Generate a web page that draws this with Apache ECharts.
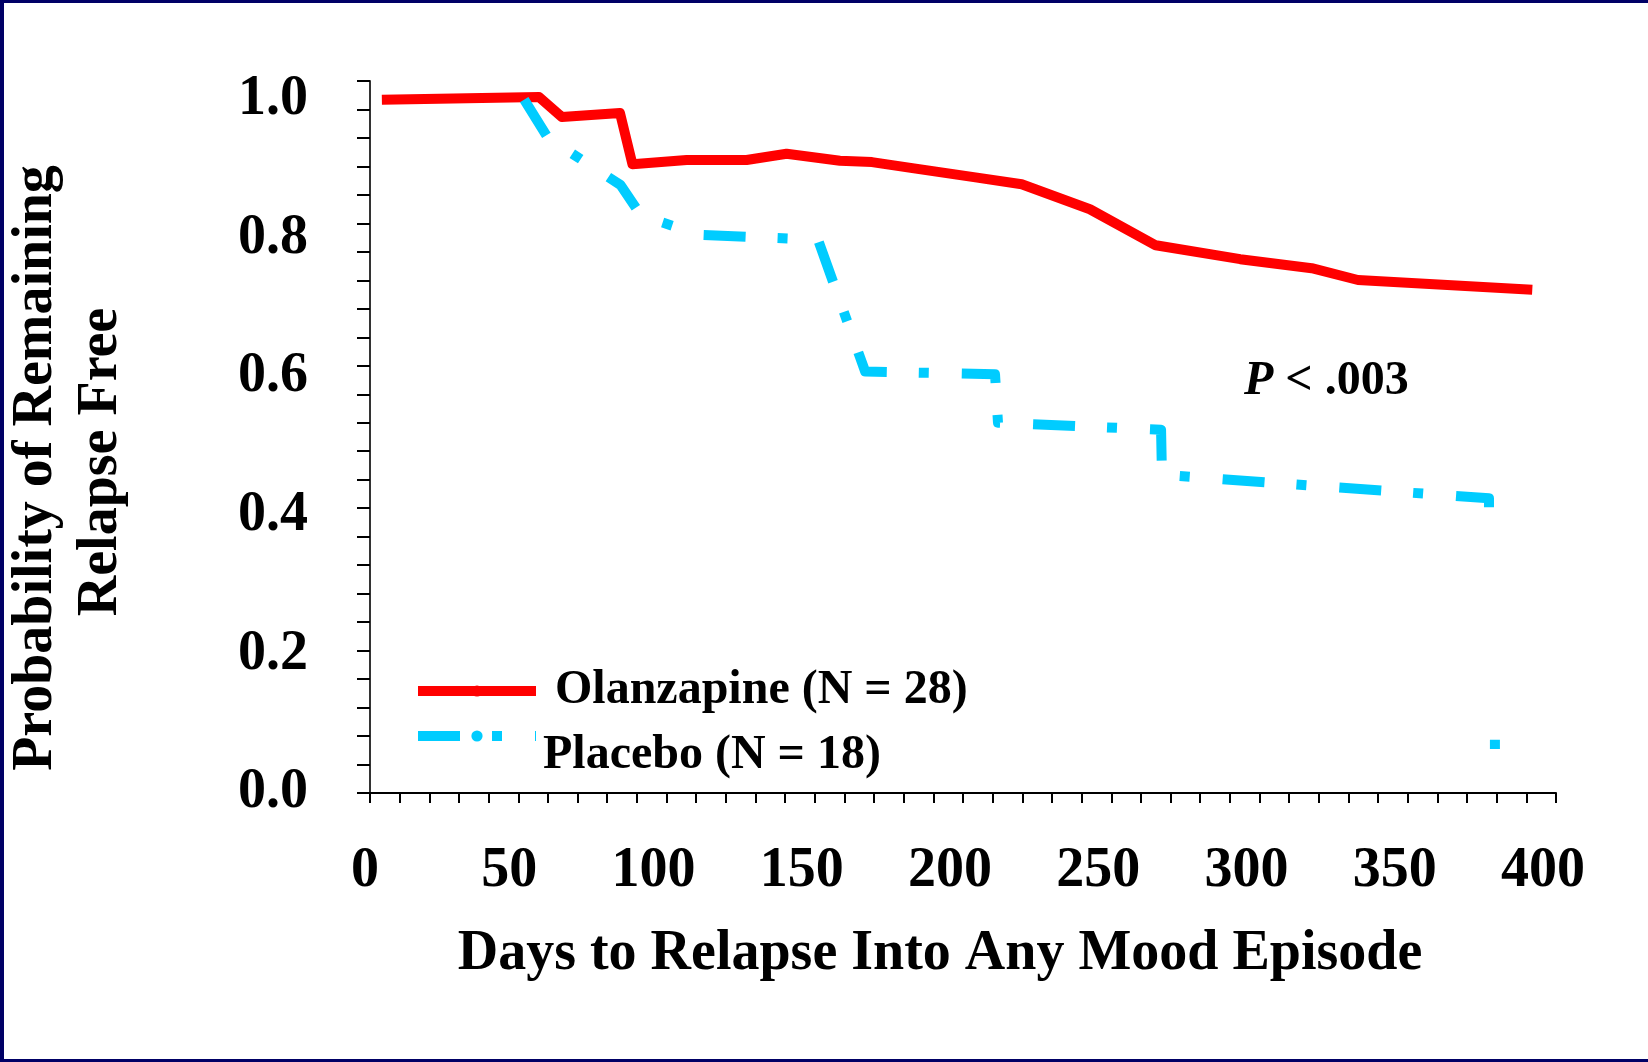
<!DOCTYPE html>
<html>
<head>
<meta charset="utf-8">
<title>Days to Relapse Into Any Mood Episode</title>
<script src="https://cdn.jsdelivr.net/npm/echarts@6/dist/echarts.min.js"></script>
<style>
  html, body { margin: 0; padding: 0; background: #fff; }
  #chart { width: 1648px; height: 1062px; }
</style>
</head>
<body>
<div id="chart"></div>
<script>
const FONT = '"Liberation Serif", "Times New Roman", serif'

// axis labels
const xTicks = [0, 50, 100, 150, 200, 250, 300, 350, 400]
const yTicks = [0, 0.2, 0.4, 0.6, 0.8, 1.0]

// Kaplan-Meier curves
const olanzapineDays = [4, 57, 64.7, 84.3, 88.5, 106.8, 127, 140.5, 158.5, 169.3, 183.5, 204.2, 219.8, 242.8, 265, 293.5, 317.6, 333.2, 392]
const olanzapineProb = [1.0, 1.004, 0.975, 0.981, 0.907, 0.913, 0.913, 0.922, 0.912, 0.91, 0.901, 0.888, 0.878, 0.842, 0.79, 0.77, 0.757, 0.74, 0.726]

const placeboDays = [52, 60, 84.5, 91.4, 111.3, 151.1, 167, 210.8, 211.8, 266.8, 267.1, 377.4, 377.4, 378, 379.4, 379.4]
const placeboProb = [1.0, 0.945, 0.877, 0.833, 0.805, 0.798, 0.608, 0.604, 0.534, 0.524, 0.459, 0.425, 0.405, null, 0.0767, 0.0636]

const olanzapineName = 'Olanzapine (N = 28)'
const placeboName = 'Placebo (N = 18)'

const zip = (xs, ys) => xs.map((x, i) => [x, ys[i]])

const chart = echarts.init(document.getElementById('chart'))

const boldText = {
  fontFamily: FONT,
  fontSize: 56,
  fontWeight: 'bold',
  color: '#000'
}

// tick labels sit a bit left of their ticks, more so the longer they are
const tickRich = {
  d1: { ...boldText, padding: [0, 10, 0, 0] },
  d2: { ...boldText, padding: [0, 18, 0, 0] },
  d3: { ...boldText, padding: [0, 26, 0, 0] }
}

const option = {
  animation: false,
  backgroundColor: '#fff',
  grid: {
    left: 370,
    right: 92,
    top: 81,
    bottom: 269,
    outerBoundsMode: 'none'
  },
  legend: [
    {
      data: [olanzapineName],
      left: 413,
      top: 667,
      padding: 0,
      itemWidth: 118,
      itemHeight: 14,
      selectedMode: false,
      lineStyle: { width: 10 },
      textStyle: { ...boldText, fontSize: 48, padding: [0, 0, 0, 14] }
    },
    {
      // label hangs a little below its line sample
      data: [placeboName],
      left: 413,
      top: 692,
      padding: 0,
      itemWidth: 118,
      itemHeight: 14,
      selectedMode: false,
      lineStyle: { width: 10 },
      formatter: name => '\n' + name,
      textStyle: { ...boldText, fontSize: 48, lineHeight: 40, padding: [0, 0, 0, 2] }
    }
  ],
  xAxis: {
    type: 'value',
    min: 0,
    max: 400,
    interval: 10,
    splitLine: { show: false },
    axisLine: { lineStyle: { color: '#000', width: 2 } },
    axisTick: { length: 10, lineStyle: { color: '#000', width: 2 } },
    axisLabel: {
      margin: 51,
      ...boldText,
      rich: tickRich,
      formatter: v => (xTicks.includes(v) ? '{d' + String(v).length + '|' + v + '}' : '')
    }
  },
  yAxis: [
    {
      type: 'value',
      min: 0,
      max: 1.027,
      interval: 0.2,
      splitLine: { show: false },
      axisLine: { show: true, lineStyle: { color: '#333', width: 2 } },
      axisTick: { show: false },
      axisLabel: {
        margin: 62,
        showMaxLabel: false,
        ...boldText,
        formatter: v => (yTicks.some(t => Math.abs(t - v) < 1e-6) ? v.toFixed(1) : '')
      }
    },
    {
      // minor ticks only
      type: 'value',
      position: 'left',
      min: 0,
      max: 25,
      interval: 1,
      splitLine: { show: false },
      axisLine: { show: false },
      axisTick: { show: true, length: 13, lineStyle: { color: '#000', width: 2 } },
      axisLabel: { show: false }
    }
  ],
  graphic: [
    { type: 'rect', shape: { x: 0, y: 0, width: 4, height: 1062 }, style: { fill: '#000066' } },
    { type: 'rect', shape: { x: 0, y: 0, width: 1648, height: 3 }, style: { fill: '#000066' } },
    { type: 'rect', shape: { x: 0, y: 1059, width: 1648, height: 3 }, style: { fill: '#000066' } },
    {
      type: 'text',
      x: 940,
      y: 955,
      style: {
        text: 'Days to Relapse Into Any Mood Episode',
        fontFamily: FONT, fontSize: 56, fontWeight: 'bold', fill: '#000',
        align: 'center', verticalAlign: 'middle'
      }
    },
    {
      type: 'text',
      x: 37,
      y: 468,
      rotation: Math.PI / 2,
      style: {
        text: 'Probability of Remaining',
        fontFamily: FONT, fontSize: 56, fontWeight: 'bold', fill: '#000',
        align: 'center', verticalAlign: 'middle'
      }
    },
    {
      type: 'text',
      x: 102,
      y: 462,
      rotation: Math.PI / 2,
      style: {
        text: 'Relapse Free',
        fontFamily: FONT, fontSize: 56, fontWeight: 'bold', fill: '#000',
        align: 'center', verticalAlign: 'middle'
      }
    },
    {
      type: 'text',
      x: 1244,
      y: 382,
      style: {
        text: '{p|P} < .003',
        fontFamily: FONT, fontSize: 48, fontWeight: 'bold', fill: '#000',
        verticalAlign: 'middle',
        rich: {
          p: { fontFamily: FONT, fontSize: 48, fontWeight: 'bold', fontStyle: 'italic', fill: '#000' }
        }
      }
    }
  ],
  series: [
    {
      name: olanzapineName,
      type: 'line',
      data: zip(olanzapineDays, olanzapineProb),
      symbol: 'none',
      clip: false,
      itemStyle: { color: '#ff0000' },
      lineStyle: { color: '#ff0000', width: 10, join: 'round' }
    },
    {
      name: placeboName,
      type: 'line',
      data: zip(placeboDays, placeboProb),
      symbol: 'none',
      clip: false,
      connectNulls: false,
      itemStyle: { color: '#00ccff' },
      lineStyle: { color: '#00ccff', width: 10, type: [42, 32, 10, 33], cap: 'butt', join: 'round' }
    }
  ]
}

chart.setOption(option)

window.addEventListener('resize', () => chart.resize())
</script>
</body>
</html>
